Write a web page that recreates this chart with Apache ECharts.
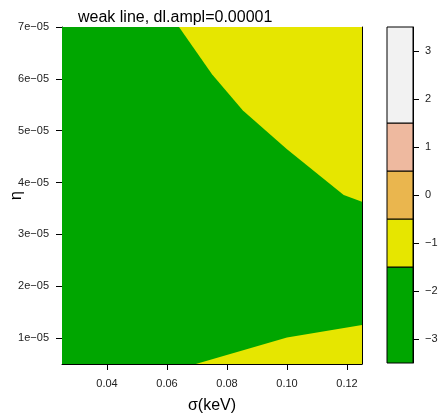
<!DOCTYPE html>
<html>
<head>
<meta charset="utf-8">
<script src="https://cdn.jsdelivr.net/npm/echarts@6/dist/echarts.min.js"></script>
<style>
html,body{margin:0;padding:0;background:#fff;}
#chart{width:441px;height:413px;}
</style>
</head>
<body>
<div id="chart"></div>
<script>
// ---- data ----
const titleText = 'weak line, dl.ampl=0.00001';
const xLabel = 'σ(keV)';
const yLabel = 'η';
const sigmaRange = [0.025, 0.125];
const etaRange = [5e-6, 7e-5];
const xTicks = [0.04, 0.06, 0.08, 0.10, 0.12];
const xTickLabels = ['0.04', '0.06', '0.08', '0.10', '0.12'];
const yTicks = [1e-5, 2e-5, 3e-5, 4e-5, 5e-5, 6e-5, 7e-5];
const yTickLabels = ['1e\u221205', '2e\u221205', '3e\u221205', '4e\u221205', '5e\u221205', '6e\u221205', '7e\u221205'];
const levels = [-3.5, -1.5, -0.5, 0.5, 1.5, 3.5];
const levelColors = ['#00A600', '#E6E600', '#EAB64E', '#EEB99F', '#F2F2F2'];
const keyTicks = [-3, -2, -1, 0, 1, 2, 3];
// contour boundary between band 0 (green) and band 1 (yellow), upper right
const upperSigma = [0.0640, 0.0750, 0.0853, 0.1000, 0.1189, 0.1250];
const upperEta   = [7.0e-5, 6.09e-5, 5.39e-5, 4.64e-5, 3.76e-5, 3.63e-5];
// contour boundary between band 0 (green) and band 1 (yellow), lower right
const lowerSigma = [0.0696, 0.1000, 0.1250];
const lowerEta   = [5.0e-6, 1.01e-5, 1.25e-5];

// ---- build regions (band index + polygon in data space) ----
const regions = [];
regions.push({band: 0, pts: [[sigmaRange[0], etaRange[0]], [sigmaRange[1], etaRange[0]], [sigmaRange[1], etaRange[1]], [sigmaRange[0], etaRange[1]]]});
const up = upperSigma.map((s, i) => [s, upperEta[i]]);
up.push([sigmaRange[1], etaRange[1]]);
regions.push({band: 1, pts: up});
const lo = lowerSigma.map((s, i) => [s, lowerEta[i]]);
lo.push([sigmaRange[1], etaRange[0]]);
regions.push({band: 1, pts: lo});

const FONT = 'Liberation Sans, Arial, sans-serif';
const chart = echarts.init(document.getElementById('chart'), null, {renderer: 'canvas'});

const hiddenAxis = {show: true, axisLabel: {show: false}, axisTick: {show: false}, splitLine: {show: false},
  axisLine: {show: true, onZero: false, lineStyle: {color: '#000', width: 1}}};

chart.setOption({
  animation: false,
  backgroundColor: '#fff',
  title: {text: titleText, left: 73, top: 5,
    textStyle: {fontFamily: FONT, fontSize: 16, fontWeight: 'normal', color: '#000'}},
  grid: [
    {left: 62, right: 79, top: 27, bottom: 49, containLabel: false, outerBoundsMode: 'none'},
    {left: 387, width: 26, top: 27, bottom: 50, containLabel: false, outerBoundsMode: 'none'}
  ],
  xAxis: [
    {type: 'value', gridIndex: 0, min: sigmaRange[0], max: sigmaRange[1], position: 'bottom',
      name: xLabel, nameLocation: 'middle', nameGap: 34, nameMoveOverlap: false,
      nameTextStyle: {fontFamily: FONT, fontSize: 16, color: '#000'},
      axisLine: {show: true, onZero: false, lineStyle: {color: '#000', width: 1}},
      axisTick: {show: true, length: 6, lineStyle: {color: '#000'}, customValues: xTicks},
      axisLabel: {show: true, margin: 14, fontFamily: FONT, fontSize: 11, color: '#222', customValues: xTicks,
        formatter: v => { const i = xTicks.findIndex(t => Math.abs(t - v) < 1e-9); return i >= 0 ? xTickLabels[i] : ''; }},
      splitLine: {show: false}},
    Object.assign({type: 'value', gridIndex: 0, min: sigmaRange[0], max: sigmaRange[1], position: 'top'}, hiddenAxis),
    {type: 'value', gridIndex: 1, min: 0, max: 1, show: false}
  ],
  yAxis: [
    {type: 'value', gridIndex: 0, min: etaRange[0], max: etaRange[1], position: 'left',
      name: yLabel, nameLocation: 'middle', nameGap: 37, nameRotate: 90, nameMoveOverlap: false,
      nameTextStyle: {fontFamily: FONT, fontSize: 16, color: '#000'},
      axisLine: {show: true, onZero: false, lineStyle: {color: '#000', width: 1}},
      axisTick: {show: true, length: 6, lineStyle: {color: '#000'}, customValues: yTicks},
      axisLabel: {show: true, margin: 13, fontFamily: FONT, fontSize: 11, color: '#222', customValues: yTicks,
        formatter: v => { const i = yTicks.findIndex(t => Math.abs(t - v) < 1e-12); return i >= 0 ? yTickLabels[i] : ''; }},
      splitLine: {show: false}},
    Object.assign({type: 'value', gridIndex: 0, min: etaRange[0], max: etaRange[1], position: 'right'}, hiddenAxis),
    {type: 'value', gridIndex: 1, min: levels[0], max: levels[levels.length - 1], position: 'right',
      axisLine: {show: true, onZero: false, lineStyle: {color: '#000', width: 1}},
      axisTick: {show: true, length: 6, lineStyle: {color: '#000'}, customValues: keyTicks},
      axisLabel: {show: true, margin: 12, fontFamily: FONT, fontSize: 11, color: '#222', customValues: keyTicks,
        formatter: v => String(v).replace('-', '\u2212')},
      splitLine: {show: false}}
  ],
  series: [
    {type: 'custom', xAxisIndex: 0, yAxisIndex: 0, clip: true, silent: true,
      data: regions.map((r, i) => i),
      renderItem: function (params, api) {
        const r = regions[api.value(0)];
        const pts = r.pts.map(p => api.coord(p));
        return {type: 'polygon', shape: {points: pts}, style: {fill: levelColors[r.band], stroke: null}};
      },
      encode: {x: -1, y: -1}},
    {type: 'custom', xAxisIndex: 2, yAxisIndex: 2, silent: true,
      data: levelColors.map((c, i) => i),
      renderItem: function (params, api) {
        const i = api.value(0);
        const p0 = api.coord([0, levels[i + 1]]);
        const p1 = api.coord([1, levels[i]]);
        return {type: 'rect', shape: {x: p0[0], y: p0[1], width: p1[0] - p0[0], height: p1[1] - p0[1]},
          style: {fill: levelColors[i], stroke: '#000', lineWidth: 1}};
      },
      encode: {x: -1, y: -1}}
  ]
});
</script>
</body>
</html>
